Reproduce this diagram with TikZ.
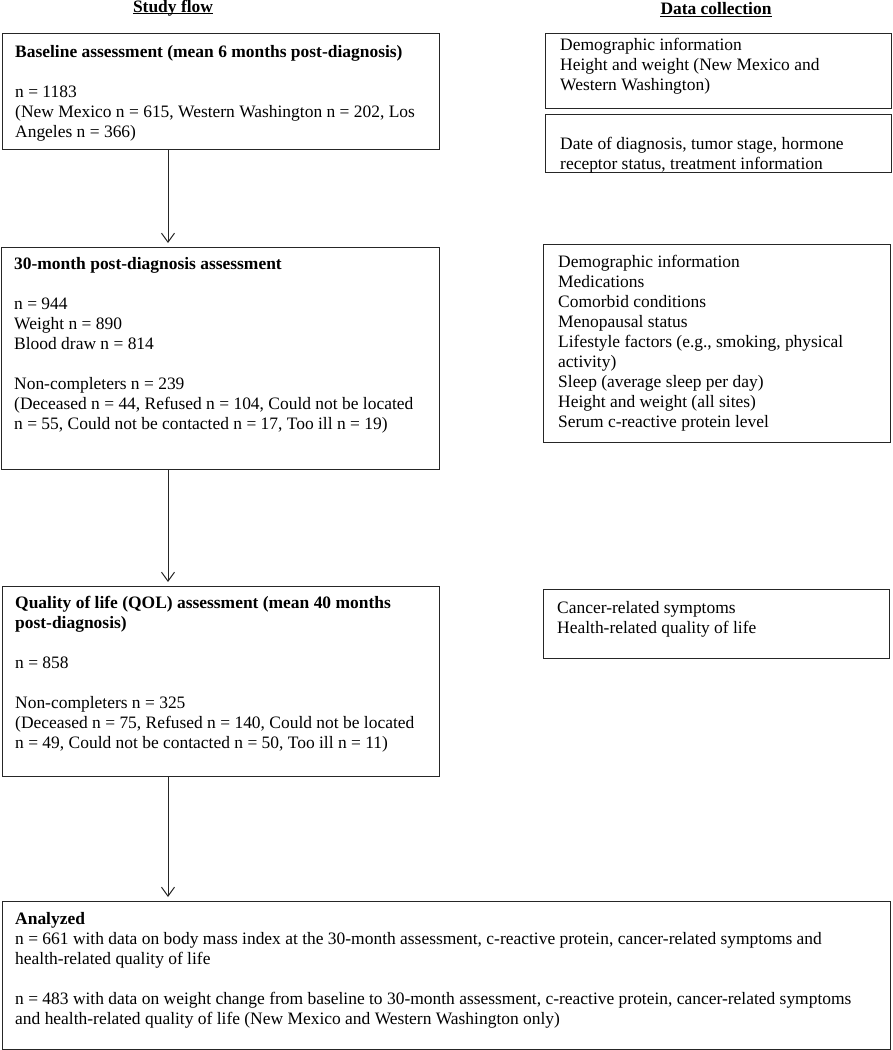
\documentclass[tikz,border=0pt]{standalone}
\usepackage{fontspec}
\setmainfont{Liberation Serif}
\usetikzlibrary{arrows.meta}
\tikzset{
  box/.style={draw=black!85, line width=1pt, inner sep=0pt, anchor=north west},
  txt/.style={anchor=base west, inner sep=0pt, align=left, font=\fontsize{17.45}{20}\selectfont},
  hdr/.style={anchor=base, inner sep=0pt, font=\fontsize{17.45}{20}\selectfont\bfseries},
  uline/.style={line width=0.9pt},
  flow/.style={draw=black!85, line width=1pt, -{Straight Barb[length=9pt,width=13pt]}, shorten >=4pt}
}
\begin{document}
\begin{tikzpicture}[x=1pt,y=-1pt]
\useasboundingbox (0,0) rectangle (892,1050);
% headers
\node[hdr] (h1) at (173,12) {Study flow};
\node[hdr] (h2) at (716,14.5) {Data collection};
\draw[uline] ([yshift=-1.5pt]h1.base west) -- ([yshift=-1.5pt]h1.base east);
\draw[uline] ([yshift=-1.5pt]h2.base west) -- ([yshift=-1.5pt]h2.base east);
% left boxes
\node[box, minimum width=437pt, minimum height=116pt] (B1) at (2,33) {};
\node[box, minimum width=438pt, minimum height=222pt] (B2) at (1,247) {};
\node[box, minimum width=437pt, minimum height=190pt] (B3) at (2,586) {};
\node[box, minimum width=888pt, minimum height=148pt] (B4) at (2,901) {};
% right boxes
\node[box, minimum width=346pt, minimum height=75pt] (R1) at (545,33) {};
\node[box, minimum width=346pt, minimum height=58pt] (R2) at (545,114) {};
\node[box, minimum width=347pt, minimum height=198pt] (R3) at (543,244) {};
\node[box, minimum width=346pt, minimum height=69pt] (R4) at (543,589) {};
% texts (anchored at the baseline of their last line)
\node[txt] (t1) at (15,137) {\textbf{Baseline assessment (mean 6 months post-diagnosis)}\\[20pt]
n = 1183\\
(New Mexico n = 615, Western Washington n = 202, Los\\
Angeles n = 366)};
\node[txt] (t2) at (14,429) {\textbf{30-month post-diagnosis assessment}\\[20pt]
n = 944\\
Weight n = 890\\
Blood draw n = 814\\[20pt]
Non-completers n = 239\\
(Deceased n = 44, Refused n = 104, Could not be located\\
n = 55, Could not be contacted n = 17, Too ill n = 19)};
\node[txt] (t3) at (15,748) {\textbf{Quality of life (QOL) assessment (mean 40 months}\\
\textbf{post-diagnosis)}\\[20pt]
n = 858\\[20pt]
Non-completers n = 325\\
(Deceased n = 75, Refused n = 140, Could not be located\\
n = 49, Could not be contacted n = 50, Too ill n = 11)};
\node[txt] (t4) at (15,1024) {\textbf{Analyzed}\\
n = 661 with data on body mass index at the 30-month assessment, c-reactive protein, cancer-related symptoms and\\
health-related quality of life\\[20pt]
n = 483 with data on weight change from baseline to 30-month assessment, c-reactive protein, cancer-related symptoms\\
and health-related quality of life (New Mexico and Western Washington only)};
\node[txt] (s1) at (560,90) {Demographic information\\
Height and weight (New Mexico and\\
Western Washington)};
\node[txt] (s2) at (560,169) {Date of diagnosis, tumor stage, hormone\\
receptor status, treatment information};
\node[txt] (s3) at (558,427) {Demographic information\\
Medications\\
Comorbid conditions\\
Menopausal status\\
Lifestyle factors (e.g., smoking, physical\\
activity)\\
Sleep (average sleep per day)\\
Height and weight (all sites)\\
Serum c-reactive protein level};
\node[txt] (s4) at (557,633) {Cancer-related symptoms\\
Health-related quality of life};
% arrows
\coordinate (ax) at (168,0);
\draw[flow] (B1.south -| ax) -- (B2.north -| ax);
\draw[flow] (B2.south -| ax) -- (B3.north -| ax);
\draw[flow] (B3.south -| ax) -- (B4.north -| ax);
\end{tikzpicture}
\end{document}
